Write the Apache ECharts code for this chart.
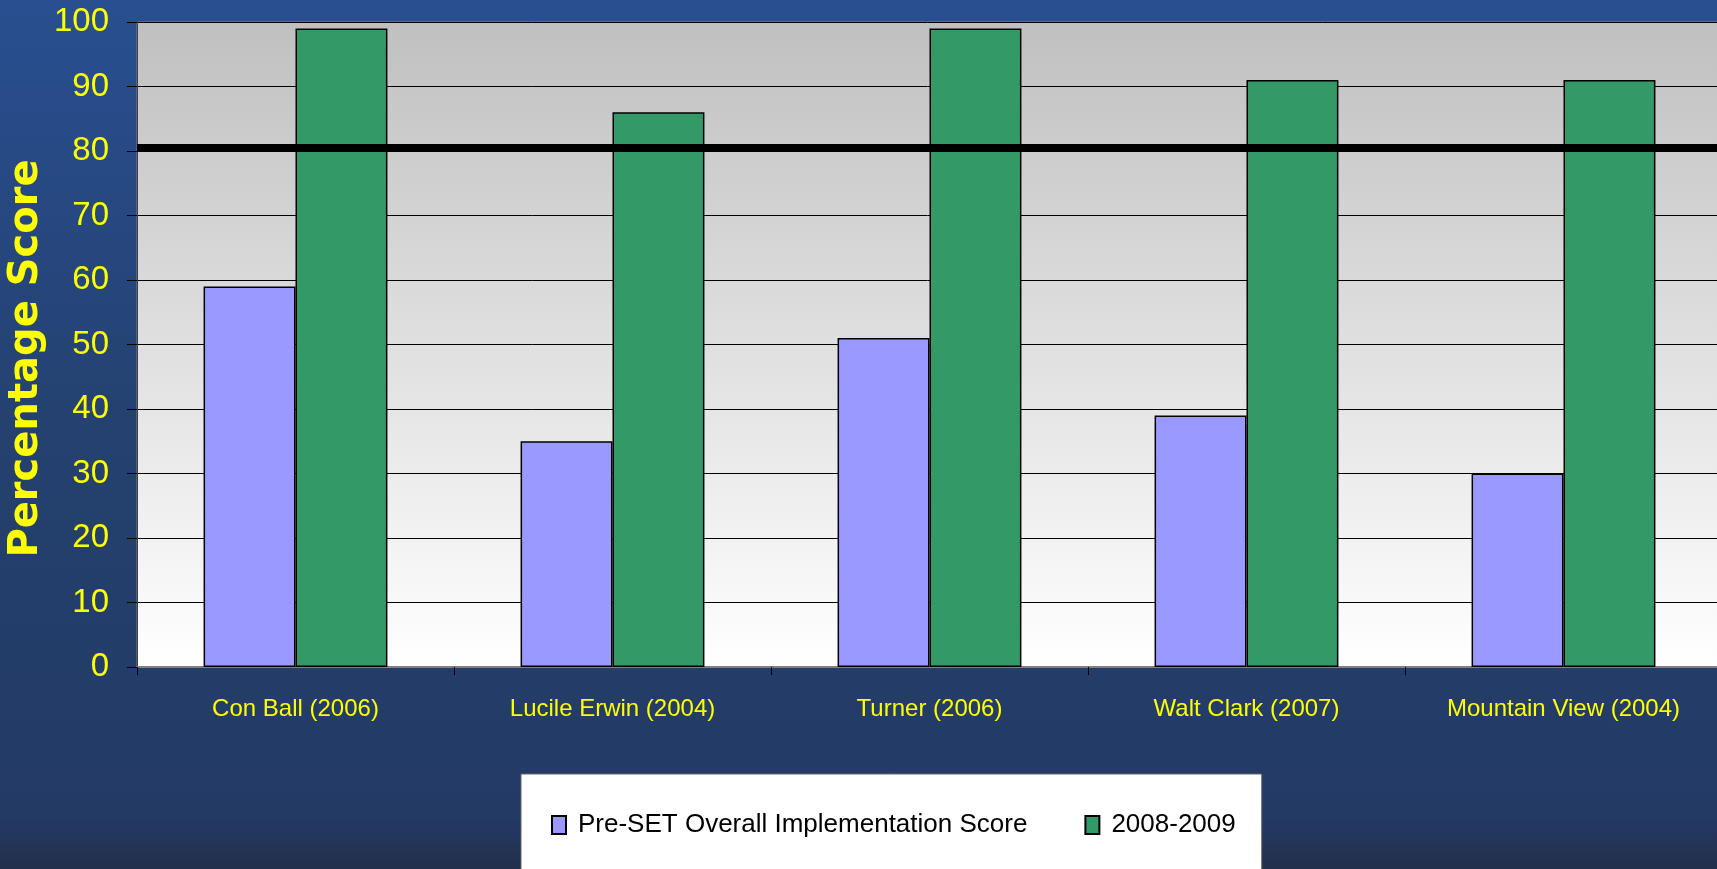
<!DOCTYPE html>
<html>
<head>
<meta charset="utf-8">
<script src="https://cdn.jsdelivr.net/npm/echarts@6/dist/echarts.min.js"></script>
<style>
  html, body { margin: 0; padding: 0; }
  #chart {
    width: 1717px;
    height: 869px;
  }
</style>
</head>
<body>
<div id="chart"></div>
<script>
  // schools, with the year they started
  const schools = ['Con Ball (2006)', 'Lucile Erwin (2004)', 'Turner (2006)', 'Walt Clark (2007)', 'Mountain View (2004)'];
  const preSet = [59, 35, 51, 39, 30];
  const year0809 = [99, 86, 99, 91, 91];
  const yTicks = [0, 10, 20, 30, 40, 50, 60, 70, 80, 90, 100];
  const target = 80.5;

  const narrow = '"Liberation Sans Narrow", "Liberation Sans", Arial, sans-serif';

  let myChart = echarts.init(document.getElementById('chart'));
  myChart.setOption({
    backgroundColor: new echarts.graphic.LinearGradient(0, 0, 0, 1, [
      {offset: 0, color: '#294f91'},
      {offset: 0.5, color: '#24416f'},
      {offset: 0.94, color: '#233a65'},
      {offset: 1, color: '#222f4c'}
    ]),
    animation: false,
    grid: {
      left: 137,
      top: 22,
      right: -5,
      bottom: 202,
      outerBoundsMode: 'none',
      containLabel: false,
      show: true,
      borderColor: '#808080',
      borderWidth: 1,
      backgroundColor: new echarts.graphic.LinearGradient(0, 0, 0, 1, [
        {offset: 0, color: '#c0c0c0'},
        {offset: 1, color: '#ffffff'}
      ])
    },
    legend: {
      left: 521,
      top: 774,
      padding: [38, 26, 80, 30],
      itemGap: 57,
      itemWidth: 14,
      itemHeight: 18,
      icon: 'rect',
      backgroundColor: '#ffffff',
      borderColor: '#666666',
      borderWidth: 1,
      textStyle: {
        fontFamily: narrow,
        fontSize: 26,
        color: '#000000',
        padding: [0, 0, 0, 7]
      },
      data: ['Pre-SET Overall Implementation Score', '2008-2009']
    },
    xAxis: {
      type: 'category',
      data: schools,
      axisLine: {lineStyle: {color: '#808080', width: 2}},
      axisTick: {show: true, length: 8, lineStyle: {color: '#000000'}},
      axisLabel: {
        interval: 0,
        color: '#ffff00',
        fontFamily: narrow,
        fontSize: 24,
        margin: 30
      }
    },
    yAxis: {
      type: 'value',
      min: yTicks[0],
      max: yTicks[yTicks.length - 1],
      interval: 10,
      name: 'Percentage Score',
      nameLocation: 'middle',
      nameGap: 90,
      nameMoveOverlap: false,
      nameTextStyle: {
        color: '#ffff00',
        fontFamily: '"DejaVu Sans", sans-serif',
        fontWeight: 'bold',
        fontSize: 40,
        padding: [0, 28, 0, 0]
      },
      axisLine: {show: true, lineStyle: {color: '#404040', width: 1}},
      axisTick: {show: true, inside: false, length: 10, lineStyle: {color: '#000000'}},
      axisLabel: {
        color: '#ffff00',
        fontFamily: narrow,
        fontSize: 33,
        margin: 28
      },
      splitLine: {lineStyle: {color: '#000000', width: 1}}
    },
    series: [
      {
        name: 'Pre-SET Overall Implementation Score',
        type: 'bar',
        data: preSet,
        barGap: '0%',
        barCategoryGap: '42%',
        itemStyle: {color: '#9999ff', borderColor: '#000000', borderWidth: 1.5}
      },
      {
        name: '2008-2009',
        type: 'bar',
        data: year0809,
        itemStyle: {color: '#339966', borderColor: '#000000', borderWidth: 1.5},
        markLine: {
          silent: true,
          symbol: 'none',
          label: {show: false},
          lineStyle: {color: '#000000', width: 8, type: 'solid'},
          data: [{yAxis: target}]
        }
      }
    ]
  });
</script>
</body>
</html>
